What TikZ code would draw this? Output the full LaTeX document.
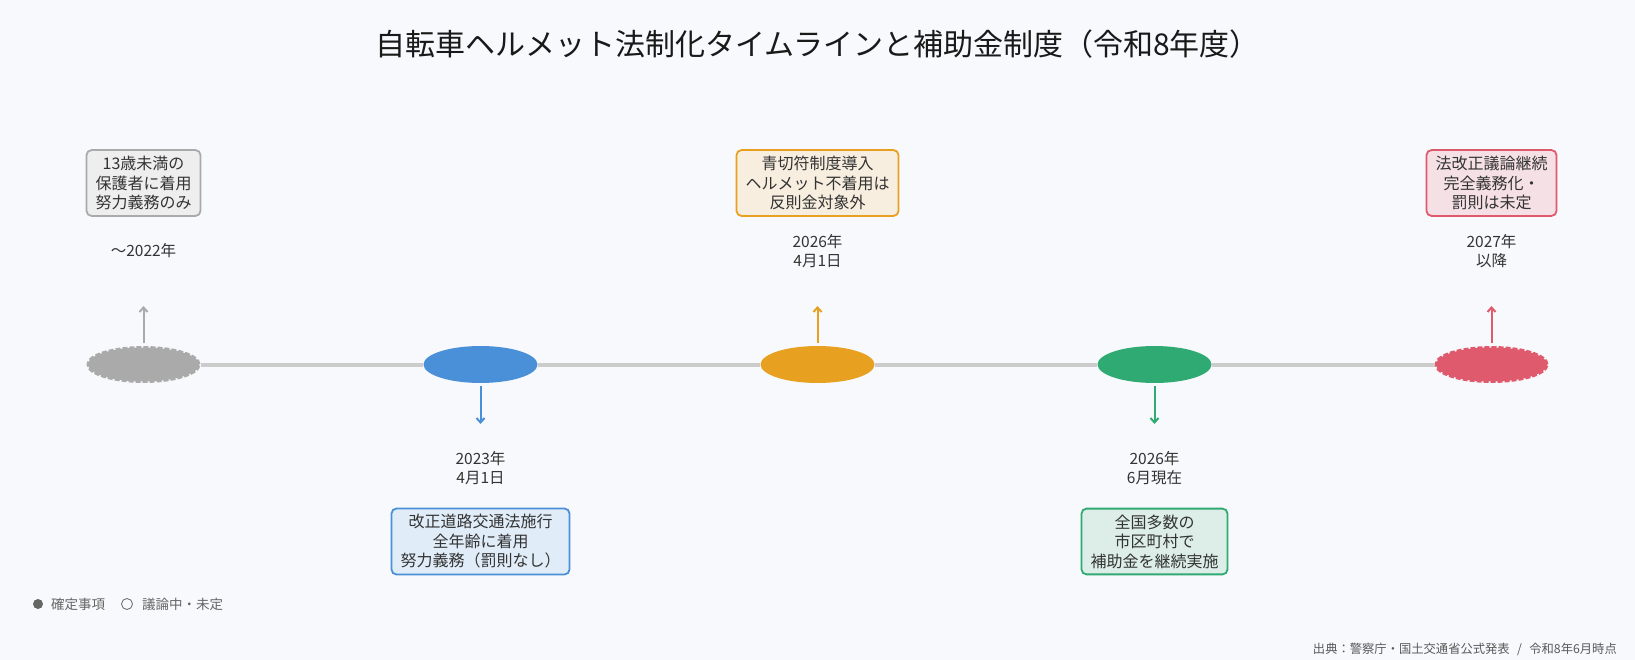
\documentclass[tikz,border=0pt]{standalone}
\usepackage{fontspec}
\setmainfont{Noto Sans CJK JP}
\usetikzlibrary{shapes.geometric,arrows.meta}
\definecolor{bg}{HTML}{F8F9FC}
\definecolor{txt}{HTML}{333333}
\definecolor{cgray}{HTML}{AAAAAA}
\definecolor{cblue}{HTML}{4A90D9}
\definecolor{corange}{HTML}{E8A020}
\definecolor{cgreen}{HTML}{2EAA72}
\definecolor{cred}{HTML}{E05A6E}
\definecolor{fgray}{HTML}{EEEEEE}
\definecolor{fblue}{HTML}{E0ECF8}
\definecolor{forange}{HTML}{F7EEDF}
\definecolor{fgreen}{HTML}{DCEEE7}
\definecolor{fred}{HTML}{F5E0E6}
\definecolor{lineg}{HTML}{CCCCCC}
\definecolor{legc}{HTML}{666666}
\begin{document}
\begin{tikzpicture}[x=1pt,y=-1pt,
  evt/.style={ellipse, minimum width=114pt, minimum height=37pt, inner sep=0pt, fill=#1},
  evtu/.style={ellipse, minimum width=111pt, minimum height=34pt, inner sep=0pt, fill=#1, draw=#1, line width=3pt, dash pattern=on 5pt off 2pt},
  infobox/.style={draw=#1, rounded corners=5pt, line width=1.8pt, align=center, inner xsep=9pt, inner ysep=6pt, font=\fontsize{16}{19.5}\selectfont, text=txt},
  datel/.style={align=center, font=\fontsize{15.5}{19.5}\selectfont, text=txt},
  conn/.style={draw=#1, line width=2pt, -{Straight Barb[length=4.5pt,width=8pt]}}
]
\fill[bg] (0,0) rectangle (1635,660);
\useasboundingbox (0,0) rectangle (1635,660);

\node[font=\fontsize{30}{36}\selectfont, text=black!90] (title) at (817.5,44) {自転車ヘルメット法制化タイムラインと補助金制度（令和8年度）};

% events
\node[evtu=cgray] (e1) at (143.5,364.5) {};
\node[evt=cblue] (e2) at (480.5,364.5) {};
\node[evt=corange] (e3) at (817.5,364.5) {};
\node[evt=cgreen] (e4) at (1154.5,364.5) {};
\node[evtu=cred] (e5) at (1491.5,364.5) {};

\draw[lineg, line width=4pt] (e1.east) -- (e2.west);
\draw[lineg, line width=4pt] (e2.east) -- (e3.west);
\draw[lineg, line width=4pt] (e3.east) -- (e4.west);
\draw[lineg, line width=4pt] (e4.east) -- (e5.west);

% arrow ends
\coordinate (a1) at (143.5,306);
\coordinate (a2) at (480.5,424);
\coordinate (a3) at (817.5,306);
\coordinate (a4) at (1154.5,424);
\coordinate (a5) at (1491.5,306);
\coordinate (s1) at (143.5,343);
\coordinate (s2) at (480.5,386);
\coordinate (s3) at (817.5,343);
\coordinate (s4) at (1154.5,386);
\coordinate (s5) at (1491.5,343);
\draw[conn=cgray] (s1) -- (a1);
\draw[conn=cblue] (s2) -- (a2);
\draw[conn=corange] (s3) -- (a3);
\draw[conn=cgreen] (s4) -- (a4);
\draw[conn=cred] (s5) -- (a5);

% dates
\node[datel] (d1) at (143.5,251) {〜2022年};
\node[datel] (d2) at (480.5,468) {2023年\\4月1日};
\node[datel] (d3) at (817.5,251) {2026年\\4月1日};
\node[datel] (d4) at (1154.5,468) {2026年\\6月現在};
\node[datel] (d5) at (1491.5,251) {2027年\\以降};

% boxes
\node[infobox=cgray, fill=fgray] (b1) at (143.5,183) {13歳未満の\\保護者に着用\\努力義務のみ};
\node[infobox=cblue, fill=fblue] (b2) at (480.5,541.5) {改正道路交通法施行\\全年齢に着用\\努力義務（罰則なし）};
\node[infobox=corange, fill=forange] (b3) at (817.5,183) {青切符制度導入\\ヘルメット不着用は\\反則金対象外};
\node[infobox=cgreen, fill=fgreen] (b4) at (1154.5,541.5) {全国多数の\\市区町村で\\補助金を継続実施};
\node[infobox=cred, fill=fred] (b5) at (1491.5,183) {法改正議論継続\\完全義務化・\\罰則は未定};

% legend
\node[circle, fill=legc, minimum size=10pt, inner sep=0pt] (l1) at (38,604) {};
\node[anchor=west, font=\fontsize{13.5}{16}\selectfont, text=legc, inner sep=0pt] (lt1) at (51,604) {確定事項};
\node[circle, draw=legc, line width=0.8pt, minimum size=11pt, inner sep=0pt] (l2) at (127,604) {};
\node[anchor=west, font=\fontsize{13.5}{16}\selectfont, text=legc, inner sep=0pt] (lt2) at (142,604) {議論中・未定};

% footer
\node[anchor=east, font=\fontsize{12.3}{14}\selectfont, text=black!65, inner sep=0pt] (src) at (1617,649) {出典：警察庁・国土交通省公式発表\hspace{0.6em}/\hspace{0.6em}令和8年6月時点};
\end{tikzpicture}
\end{document}
